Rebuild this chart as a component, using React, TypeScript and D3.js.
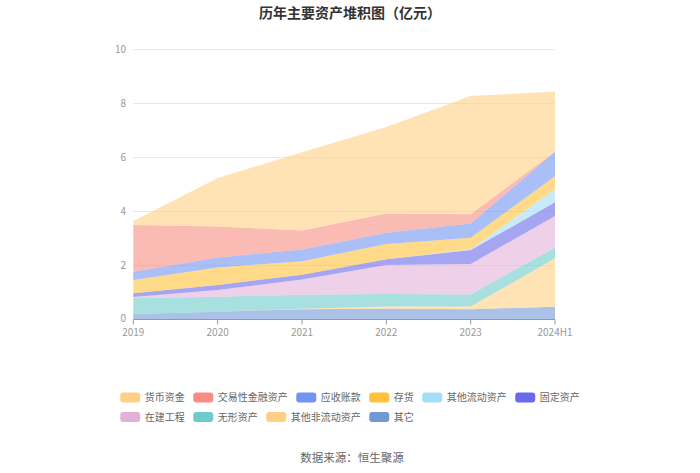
import React from "react";
import * as d3 from "d3";

const categories = ["2019", "2020", "2021", "2022", "2023", "2024H1"];

// Series in legend order (top of stack first)
const seriesNames = [
  "货币资金",
  "交易性金融资产",
  "应收账款",
  "存货",
  "其他流动资产",
  "固定资产",
  "在建工程",
  "无形资产",
  "其他非流动资产",
  "其它",
];

const huobi = [0.15, 1.8, 2.89, 3.2, 4.38, 2.23];
const jiaoyi = [1.73, 1.14, 0.71, 0.72, 0.34, 0.0];
const yingshou = [0.31, 0.37, 0.43, 0.41, 0.53, 0.9];
const cunhuo = [0.49, 0.65, 0.5, 0.57, 0.43, 0.49];
const qitaLiudong = [0.0, 0.0, 0.0, 0.0, 0.03, 0.48];
const guding = [0.14, 0.19, 0.18, 0.21, 0.51, 0.51];
const zaijian = [0.04, 0.25, 0.56, 1.08, 1.13, 1.16];
const wuxing = [0.59, 0.55, 0.52, 0.46, 0.45, 0.4];
const qitaFeiliudong = [0.0, 0.0, 0.02, 0.08, 0.1, 1.8];
const qita = [0.2, 0.29, 0.38, 0.4, 0.38, 0.47];

const seriesValues = [
  huobi,
  jiaoyi,
  yingshou,
  cunhuo,
  qitaLiudong,
  guding,
  zaijian,
  wuxing,
  qitaFeiliudong,
  qita,
];

const colors = [
  "#FFD083",
  "#F88D83",
  "#7293F3",
  "#FFC23A",
  "#A3DDF8",
  "#6B69EA",
  "#E2B0D8",
  "#6DCCC9",
  "#FFD083",
  "#7398D8",
];

const yTicks = [0, 2, 4, 6, 8, 10];

const FONT = "'Noto Sans CJK SC', 'Noto Sans', sans-serif";

export default function App() {
  const width = 700;
  const height = 473;
  const x = d3.scalePoint<string>().domain(categories).range([133.3, 555]);
  const y = d3.scaleLinear().domain([0, 10]).range([319.5, 49.5]);

  const table = categories.map((c, i) => {
    const row: Record<string, any> = { cat: c };
    seriesNames.forEach((n, k) => (row[n] = seriesValues[k][i]));
    return row;
  });
  const stackKeys = [...seriesNames].reverse();
  const stacked = d3.stack<any>().keys(stackKeys)(table);
  const area = d3
    .area<any>()
    .x((d) => x(d.data.cat) as number)
    .y0((d) => y(d[0]))
    .y1((d) => y(d[1]));

  const rows = [seriesNames.slice(0, 6), seriesNames.slice(6)];
  const iconW = 20;
  const iconH = 10;
  const textOff = 24.5;
  const charW = 10;
  const gap = 8.5;
  const itemW = (n: string) => textOff + n.length * charW;
  const row0W = rows[0].reduce((s, n) => s + itemW(n), 0) + gap * (rows[0].length - 1);
  const legendX0 = width / 2 - row0W / 2;
  const rowY = [397.5, 417];

  return (
    <svg
      width={width}
      height={height}
      style={{ position: "absolute", left: 0, top: 0, background: "#fff" }}
      fontFamily={FONT}
    >
      <text x={350} y={17.5} textAnchor="middle" fontSize={14} fontWeight="bold" fill="#333">
        历年主要资产堆积图（亿元）
      </text>

      {yTicks.map((t) => (
        <g key={t}>
          {t !== 0 && (
            <line x1={133.3} x2={555} y1={y(t)} y2={y(t)} stroke="#E6E8EF" strokeWidth={1} />
          )}
          <text
            x={126}
            y={y(t) - (t === 0 ? 1.5 : 0)}
            dy="0.35em"
            textAnchor="end"
            fontSize={10}
            fill="#999"
          >
            {t}
          </text>
        </g>
      ))}

      {stacked.map((s) => (
        <path
          key={s.key}
          d={area(s as any) || ""}
          fill={colors[seriesNames.indexOf(s.key)]}
          fillOpacity={0.6}
          stroke="none"
        />
      ))}

      <line x1={133.3} x2={555} y1={y(0)} y2={y(0)} stroke="#999" strokeWidth={1} />
      {categories.map((c) => (
        <g key={c}>
          <line x1={x(c) as number} x2={x(c) as number} y1={y(0)} y2={y(0) + 5} stroke="#999" />
          <text
            x={x(c) as number}
            y={332}
            dy="0.35em"
            textAnchor="middle"
            fontSize={10}
            fill="#999"
          >
            {c}
          </text>
        </g>
      ))}

      {rows.map((row, ri) => {
        let cx = legendX0;
        return row.map((n) => {
          const k = seriesNames.indexOf(n);
          const gx = cx;
          cx += itemW(n) + gap;
          return (
            <g key={n}>
              <rect x={gx} y={rowY[ri] - iconH / 2} width={iconW} height={iconH} rx={3} fill={colors[k]} />
              <text x={gx + textOff} y={rowY[ri]} dy="0.35em" fontSize={10} fill="#666">
                {n}
              </text>
            </g>
          );
        });
      })}

      <text x={352} y={458} dy="0.35em" textAnchor="middle" fontSize={11.5} fill="#666">
        数据来源：恒生聚源
      </text>
    </svg>
  );
}
